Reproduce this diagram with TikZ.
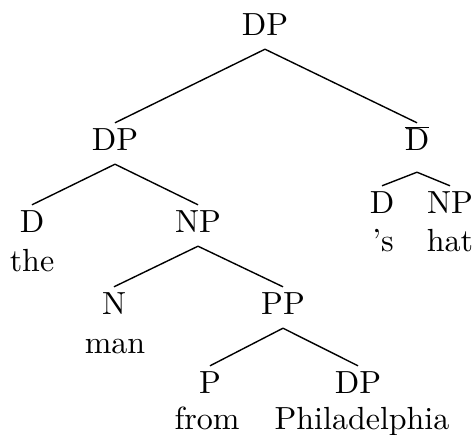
\documentclass[tikz,border=0pt]{standalone}
\usepackage{fontspec}
\setmainfont{lmroman10-regular.otf}[Ligatures=TeX]
\usepackage{tikz}

\begin{document}
\begin{tikzpicture}[
  x=1pt, y=-1pt,
  %% styles
  cat/.style={inner sep=0pt, anchor=base,
              text height=27pt, text depth=14pt,
              font=\fontsize{32}{38}\selectfont},
  word/.style={inner sep=0pt, anchor=base,
               font=\fontsize{32}{38}\selectfont},
  br/.style={draw=black, line width=1.4pt},
]

%% page frame
\useasboundingbox (0,0) rectangle (474,434);

%%
%% Level baselines (y grows downwards)
%%
\def\La{35}    % root
\def\Lb{150}   % DP, D-bar
\def\Lc{232}   % D, NP (left)
\def\Lr{213}   % D, NP (right)
\def\Ld{314}   % N, PP
\def\Le{393}   % P, DP

%% ------ category labels ------------------------------------------------
\node[cat] (root) at (265,\La) {DP};

\node[cat] (dpl)  at (115,\Lb) {DP};
\node[cat, text depth=22pt] (dbar) at (417,\Lb) {$\overline{\hbox{D}}$};

\node[cat] (dl)   at (32,\Lc)  {D};
\node[cat] (npl)  at (198,\Lc) {NP};

\node[cat] (dr)   at (382,\Lr) {D};
\node[cat] (npr)  at (450,\Lr) {NP};

\node[cat] (n)    at (114,\Ld) {N};
\node[cat] (pp)   at (283,\Ld) {PP};

\node[cat] (p)    at (210,\Le) {P};
\node[cat] (dpb)  at (358,\Le) {DP};

%% ------ words ----------------------------------------------------------
\node[word] (wthe)  at (32,271)  {the};
\node[word] (wposs) at (383,251) {’s};
\node[word] (what)  at (450,251) {hat};
\node[word] (wman)  at (115,353) {man};
\node[word] (wfrom) at (207,429) {from};
\node[word] (wphil) at (362,429) {Philadelphia};

%% ------ branches -------------------------------------------------------
\draw[br] (root.south) -- (dpl.north);
\draw[br] (root.south) -- (dbar.north);

\draw[br] (dpl.south) -- (dl.north);
\draw[br] (dpl.south) -- (npl.north);

\draw[br] (dbar.south) -- (dr.north);
\draw[br] (dbar.south) -- (npr.north);

\draw[br] (npl.south) -- (n.north);
\draw[br] (npl.south) -- (pp.north);

\draw[br] (pp.south) -- (p.north);
\draw[br] (pp.south) -- (dpb.north);

\end{tikzpicture}
\end{document}
